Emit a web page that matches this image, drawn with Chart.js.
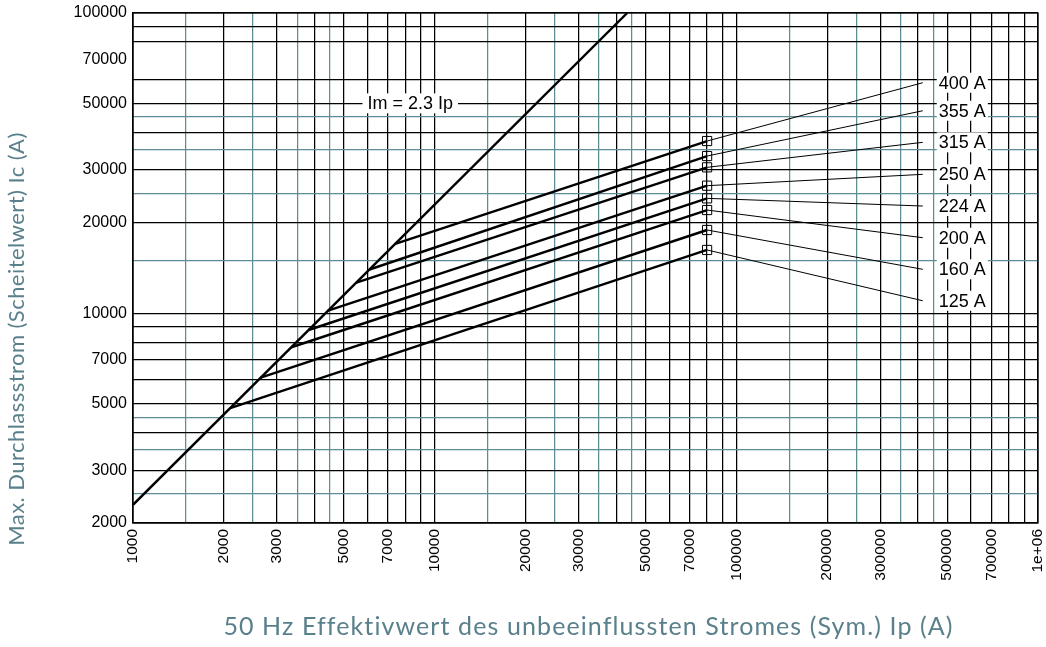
<!DOCTYPE html>
<html><head><meta charset="utf-8">
<script src="https://cdn.jsdelivr.net/npm/chart.js@4"></script>
<style>html,body{margin:0;padding:0;background:#fff;} #wrap{width:1046px;height:647px;position:relative;}</style>
</head><body><div id="wrap"><canvas id="c" width="1046" height="647"></canvas></div>
<script>
// ---- data ----
const ratings   = ['125 A','160 A','200 A','224 A','250 A','315 A','355 A','400 A'];
const kneeIp    = [2100, 2650, 3350, 3820, 4430, 5500, 6080, 7400];
const kneeIc    = [4830, 6100, 7700, 8790, 10200, 12650, 13980, 17020];
const markerIp  = 80000;
const markerIc  = [16240, 18930, 22060, 24130, 26590, 30610, 33380, 37450];
const labelIp   = 415000;
const labelIc   = [11000, 14000, 17840, 22750, 29010, 37080, 47250, 58580];
const diagIp    = [1000, 43478];
const diagIc    = [2300, 100000];
const diagLabel = 'Im = 2.3 Ip';
const diagLabelIp = 8300;
const diagLabelIc = 50000;

const xTickLabels = [1000,2000,3000,5000,7000,10000,20000,30000,50000,70000,100000,200000,300000,500000,700000,1000000];
const yTickLabels = [2000,3000,5000,7000,10000,20000,30000,50000,70000,100000];
const xGridBlack = [1000,2000,3000,4000,5000,6000,7000,8000,9000,10000,20000,30000,40000,50000,60000,70000,80000,90000,100000,200000,300000,400000,500000,600000,700000,800000,900000,1000000];
const xGridTeal  = [1500,2500,3500,4500,15000,25000,35000,45000,150000,250000,350000,450000];
const yGridBlack = [2000,3000,4000,5000,6000,7000,8000,9000,10000,20000,30000,40000,50000,60000,80000,90000,100000];
const yGridTeal  = [2500,3500,4500,15000,25000,35000,45000];

const xTitle = '50 Hz Effektivwert des unbeeinflussten Stromes (Sym.) Ip (A)';
const yTitle = 'Max. Durchlassstrom (Scheitelwert) Ic (A)';

// ---- styling ----
const TEAL_GRID = '#5f8d97';
const TEAL_TEXT = '#5a808c';
const SANS = '"Liberation Sans", Arial, sans-serif';

function union(a, b, c) {
  return Array.from(new Set([...a, ...b, ...c])).sort((p, q) => p - q);
}
const xAll = union(xGridBlack, xGridTeal, xTickLabels);
const yAll = union(yGridBlack, yGridTeal, yTickLabels);

function gridColor(v, black, teal) {
  if (teal.includes(v)) return TEAL_GRID;
  if (black.includes(v)) return '#000';
  return 'rgba(0,0,0,0)';
}
function fmt(v) { return v === 1000000 ? '1e+06' : String(v); }

const datasets = [];
datasets.push({
  data: diagIp.map((x, i) => ({x, y: diagIc[i]})),
  borderColor: '#000', borderWidth: 2.4, pointRadius: 0, showLine: true
});
ratings.forEach((r, i) => {
  datasets.push({
    data: [{x: kneeIp[i], y: kneeIc[i]}, {x: markerIp, y: markerIc[i]}],
    borderColor: '#000', borderWidth: 2.4, showLine: true,
    pointRadius: [0, 6.5], pointStyle: 'rect', pointBorderWidth: 1,
    pointBorderColor: '#000', pointBackgroundColor: 'rgba(0,0,0,0)'
  });
  datasets.push({
    data: [{x: markerIp, y: markerIc[i]}, {x: labelIp, y: labelIc[i]}],
    borderColor: '#000', borderWidth: 1, showLine: true, pointRadius: 0
  });
});

const labelPlugin = {
  id: 'labels',
  afterDatasetsDraw(chart) {
    const {ctx, scales: {x, y}, chartArea} = chart;
    ctx.save();
    ctx.font = '18px ' + SANS;
    ctx.textBaseline = 'middle';
    ctx.textAlign = 'left';
    ratings.forEach((r, i) => {
      const px = x.getPixelForValue(labelIp) + 16;
      const py = y.getPixelForValue(labelIc[i]);
      const w = ctx.measureText(r).width;
      ctx.fillStyle = '#fff';
      ctx.fillRect(px - 2, py - 10, w + 4, 20);
      ctx.fillStyle = '#000';
      ctx.fillText(r, px, py + 1);
    });
    const dx = x.getPixelForValue(diagLabelIp);
    const dy = y.getPixelForValue(diagLabelIc);
    const dw = ctx.measureText(diagLabel).width;
    ctx.fillStyle = '#fff';
    ctx.fillRect(dx - dw / 2 - 5, dy - 10, dw + 10, 20);
    ctx.fillStyle = '#000';
    ctx.textAlign = 'center';
    ctx.fillText(diagLabel, dx, dy + 1);
    // plot frame
    ctx.strokeStyle = '#000';
    ctx.lineWidth = 1.2;
    ctx.strokeRect(chartArea.left, chartArea.top, chartArea.right - chartArea.left, chartArea.bottom - chartArea.top);
    ctx.restore();
  },
  afterDraw(chart) {
    const {ctx, chartArea} = chart;
    ctx.save();
    ctx.fillStyle = TEAL_TEXT;
    ctx.textAlign = 'center';
    ctx.textBaseline = 'middle';
    ctx.font = '25px Lato, "Open Sans", sans-serif';
    ctx.letterSpacing = '1.1px';
    ctx.fillText(xTitle, (chartArea.left + chartArea.right) / 2 + 3, 627);
    ctx.translate(17, 339);
    ctx.rotate(-Math.PI / 2);
    ctx.font = '22px Lato, "Open Sans", sans-serif';
    ctx.letterSpacing = '0.45px';
    ctx.fillText(yTitle, 0, 0);
    ctx.restore();
  }
};

new Chart(document.getElementById('c'), {
  type: 'scatter',
  data: {datasets},
  options: {
    responsive: false,
    animation: false,
    devicePixelRatio: 1,
    layout: {padding: {top: 13, right: 8, left: 0, bottom: 0}},
    plugins: {legend: {display: false}, tooltip: {enabled: false}},
    scales: {
      x: {
        type: 'logarithmic', min: 1000, max: 1000000, position: 'bottom',
        afterBuildTicks: s => { s.ticks = xAll.map(v => ({value: v})); },
        afterFit: s => { s.height = 124; s.paddingLeft = 0; s.paddingRight = 0; },
        grid: {color: c => c.tick ? gridColor(c.tick.value, xGridBlack, xGridTeal) : '#000', lineWidth: 1.25, drawTicks: false},
        border: {color: '#000', width: 1.2},
        ticks: {autoSkip: false, minRotation: 90, maxRotation: 90, padding: 6, color: '#000',
          font: {family: SANS, size: 15.5},
          callback: v => xTickLabels.includes(v) ? fmt(v) : ''}
      },
      y: {
        type: 'logarithmic', min: 2000, max: 100000, position: 'left',
        afterBuildTicks: s => { s.ticks = yAll.map(v => ({value: v})); },
        afterFit: s => { s.width = 133; s.paddingTop = 0; s.paddingBottom = 0; },
        grid: {color: c => c.tick ? gridColor(c.tick.value, yGridBlack, yGridTeal) : '#000', lineWidth: 1.25, drawTicks: false},
        border: {color: '#000', width: 1.2},
        ticks: {autoSkip: false, padding: 6, color: '#000',
          font: {family: SANS, size: 16},
          callback: v => yTickLabels.includes(v) ? fmt(v) : ''}
      }
    }
  },
  plugins: [labelPlugin]
});
</script>
</body></html>
